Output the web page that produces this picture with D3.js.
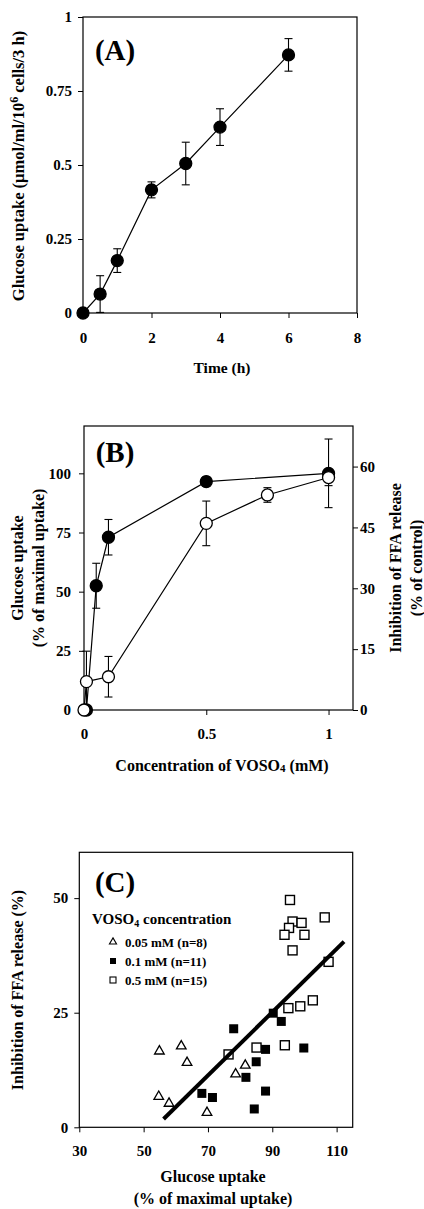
<!DOCTYPE html>
<html>
<head>
<meta charset="utf-8">
<script src="https://cdn.jsdelivr.net/npm/d3@7"></script>
<style>
  body { margin: 0; background: #fff; }
  svg { display: block; }
  text { font-family: "Liberation Serif", "Times New Roman", serif; font-weight: bold; fill: #000; }
</style>
</head>
<body>
<div id="chart"></div>
<script>
// ---- panel A: glucose uptake over time
const timeH = [0, 0.5, 1, 2, 3, 4, 6];
const uptakeA = [0, 0.064, 0.177, 0.416, 0.505, 0.628, 0.872];
const uptakeAErr = [0, 0.062, 0.04, 0.027, 0.072, 0.062, 0.055];
const ticksAX = [0, 2, 4, 6, 8];
const ticksAY = [0, 0.25, 0.5, 0.75, 1];

// ---- panel B: dose response (filled = glucose uptake, open = FFA inhibition)
const concGlucose = [0.01, 0.05, 0.1, 0.5, 1];
const glucoseB = [0, 52.5, 73, 96.5, 100];
const glucoseBErr = [0, 9.5, 7.5, 2, 14.5];
const concFFA = [0, 0.01, 0.1, 0.5, 0.75, 1];
const ffaB = [0, 7, 8.2, 46, 53, 57.3];
const ffaBErr = [0, 7.5, 5, 5.5, 1.8, 2];
const ticksBX = [0, 0.5, 1];
const ticksBLeft = [0, 25, 50, 75, 100];
const ticksBRight = [0, 15, 30, 45, 60];

// ---- panel C: correlation
const tri005X = [54.9, 61.7, 63.5, 54.7, 57.9, 69.7, 78.6, 81.6];
const tri005Y = [16.6, 17.7, 14.1, 6.7, 5.2, 3.2, 11.6, 13.5];
const sq01X = [78.0, 68.1, 71.4, 81.8, 85.0, 87.9, 87.9, 84.4, 90.3, 92.8, 99.8];
const sq01Y = [21.5, 7.4, 6.5, 10.9, 14.3, 17.0, 7.9, 4.0, 24.9, 23.1, 17.3];
const sq05X = [95.5, 106.3, 96.3, 99.1, 95.2, 93.8, 100.0, 96.3, 107.5, 102.6, 98.7, 95.0, 93.9, 85.1, 76.4];
const sq05Y = [49.6, 45.8, 44.9, 44.6, 43.5, 42.0, 42.0, 38.6, 36.1, 27.7, 26.4, 26.0, 17.9, 17.4, 15.9];
const fitX = [56.2, 112.3];
const fitY = [1.8, 40.5];
const legendLabels = ["0.05 mM (n=8)", "0.1 mM (n=11)", "0.5 mM (n=15)"];
const ticksCX = [30, 50, 70, 90, 110];
const ticksCY = [0, 25, 50];

const svg = d3.select("#chart")
              .append("svg")
              .attr("width", 424)
              .attr("height", 1209);

const styleAxis = (g, size) => {
    g.selectAll(".domain").remove();
    g.selectAll(".tick line").attr("stroke", "#000").attr("stroke-width", 1);
    g.selectAll(".tick text")
     .style("font-family", "'Liberation Serif', serif")
     .style("font-weight", "bold")
     .style("font-size", size + "px")
     .attr("fill", "#000");
};

const frame = (x, y) => {
    svg.append("rect")
       .attr("x", x.range()[0])
       .attr("y", y.range()[1])
       .attr("width", x.range()[1] - x.range()[0])
       .attr("height", y.range()[0] - y.range()[1])
       .attr("fill", "none")
       .attr("stroke", "#000")
       .attr("stroke-width", 1.2);
};

const errorBars = (xs, ys, errs, x, y) => {
    const g = svg.append("g").attr("stroke", "#000").attr("stroke-width", 1.1);
    xs.forEach((xv, i) => {
        if (!errs[i]) return;
        const cx = x(xv);
        const top = y(ys[i] + errs[i]);
        const bot = y(Math.max(ys[i] - errs[i], y.domain()[0]));
        g.append("line").attr("x1", cx).attr("x2", cx).attr("y1", top).attr("y2", bot);
        g.append("line").attr("x1", cx - 4).attr("x2", cx + 4).attr("y1", top).attr("y2", top);
        if (ys[i] - errs[i] > y.domain()[0])
            g.append("line").attr("x1", cx - 4).attr("x2", cx + 4).attr("y1", bot).attr("y2", bot);
    });
};

const series = (xs, ys, x, y, filled) => {
    const pts = xs.map((d, i) => [x(d), y(ys[i])]);
    svg.append("path")
       .attr("d", d3.line()(pts))
       .attr("fill", "none")
       .attr("stroke", "#000")
       .attr("stroke-width", 1.2);
    svg.append("g")
       .selectAll("circle")
       .data(pts)
       .join("circle")
       .attr("cx", d => d[0])
       .attr("cy", d => d[1])
       .attr("r", 6)
       .attr("fill", filled ? "#000" : "#fff")
       .attr("stroke", "#000")
       .attr("stroke-width", 1.3);
};

const label = (txt, x, y, size, rot) => {
    const t = svg.append("text")
                 .attr("text-anchor", "middle")
                 .style("font-size", size + "px")
                 .attr("transform", `translate(${x},${y})` + (rot ? ` rotate(${rot})` : ""));
    if (txt) t.text(txt);
    return t;
};

// ================= Panel A
{
    const x = d3.scaleLinear().domain([0, 8]).range([83, 357]);
    const y = d3.scaleLinear().domain([0, 1]).range([313, 17]);

    svg.append("g").attr("transform", "translate(0,313)")
       .call(d3.axisBottom(x).tickValues(ticksAX).tickFormat(d => String(d)).tickSize(5).tickSizeOuter(0).tickPadding(14))
       .call(g => styleAxis(g, 15));
    svg.append("g").attr("transform", "translate(83,0)")
       .call(d3.axisLeft(y).tickValues(ticksAY).tickFormat(d => String(d)).tickSize(5).tickSizeOuter(0).tickPadding(6))
       .call(g => styleAxis(g, 15));
    frame(x, y);

    errorBars(timeH, uptakeA, uptakeAErr, x, y);
    series(timeH, uptakeA, x, y, true);

    label("(A)", 115, 60, 29);
    label("Time (h)", 222, 373, 15.5);
    const t = label(null, 24, 166, 16.5, -90);
    t.append("tspan").text("Glucose uptake (\u00b5mol/ml/10");
    t.append("tspan").attr("dy", -6).style("font-size", "12px").text("6");
    t.append("tspan").attr("dy", 6).text(" cells/3 h)");
}

// ================= Panel B
{
    const x = d3.scaleLinear().domain([0, 1.1]).range([84, 353]);
    const yL = d3.scaleLinear().domain([0, 120]).range([710, 426]);
    const yR = d3.scaleLinear().domain([0, 70]).range([710, 426]);

    svg.append("g").attr("transform", "translate(0,710)")
       .call(d3.axisBottom(x).tickValues(ticksBX).tickFormat(d => String(d)).tickSize(5).tickSizeOuter(0).tickPadding(13))
       .call(g => styleAxis(g, 15));
    svg.append("g").attr("transform", "translate(84,0)")
       .call(d3.axisLeft(yL).tickValues(ticksBLeft).tickSize(5).tickSizeOuter(0).tickPadding(8))
       .call(g => styleAxis(g, 15));
    svg.append("g").attr("transform", "translate(353,0)")
       .call(d3.axisRight(yR).tickValues(ticksBRight).tickSize(5).tickSizeOuter(0).tickPadding(2))
       .call(g => styleAxis(g, 15));
    frame(x, yL);

    errorBars(concGlucose, glucoseB, glucoseBErr, x, yL);
    errorBars(concFFA, ffaB, ffaBErr, x, yR);
    series(concGlucose, glucoseB, x, yL, true);
    series(concFFA, ffaB, x, yR, false);

    label("(B)", 115, 462, 29);
    const t = label(null, 222, 771, 16);
    t.append("tspan").text("Concentration of VOSO");
    t.append("tspan").attr("dy", 1).style("font-size", "11px").text("4");
    t.append("tspan").attr("dy", -1).text(" (mM)");
    label("Glucose uptake", 23, 568, 16, -90);
    label("(% of maximal uptake)", 44, 568, 16, -90);
    label("Inhibition of FFA release", 401, 568, 16, -90);
    label("(% of control)", 422, 568, 16, -90);
}

// ================= Panel C
{
    const x = d3.scaleLinear().domain([30, 115]).range([79.3, 352.7]);
    const y = d3.scaleLinear().domain([0, 60]).range([1127.3, 852.3]);

    svg.append("g").attr("transform", "translate(0,1127.3)")
       .call(d3.axisBottom(x).tickValues(ticksCX).tickSize(5).tickSizeOuter(0).tickPadding(13))
       .call(g => styleAxis(g, 15));
    svg.append("g").attr("transform", "translate(79.3,0)")
       .call(d3.axisLeft(y).tickValues(ticksCY).tickSize(5).tickSizeOuter(0).tickPadding(6))
       .call(g => styleAxis(g, 15));
    frame(x, y);

    const s = 9;
    svg.append("g")
       .selectAll("rect")
       .data(sq01X)
       .join("rect")
       .attr("x", (d, i) => x(d) - s / 2)
       .attr("y", (d, i) => y(sq01Y[i]) - s / 2)
       .attr("width", s).attr("height", s)
       .attr("fill", "#000");

    svg.append("g")
       .selectAll("rect")
       .data(sq05X)
       .join("rect")
       .attr("x", (d, i) => x(d) - s / 2)
       .attr("y", (d, i) => y(sq05Y[i]) - s / 2)
       .attr("width", s).attr("height", s)
       .attr("fill", "#fff")
       .attr("stroke", "#000")
       .attr("stroke-width", 1.4);

    const tri = d3.symbol().type(d3.symbolTriangle).size(40);
    svg.append("g")
       .selectAll("path")
       .data(tri005X)
       .join("path")
       .attr("d", tri)
       .attr("transform", (d, i) => `translate(${x(d)},${y(tri005Y[i])})`)
       .attr("fill", "#fff")
       .attr("stroke", "#000")
       .attr("stroke-width", 1.3);

    svg.append("path")
       .attr("d", d3.line()(fitX.map((d, i) => [x(d), y(fitY[i])])))
       .attr("stroke", "#000")
       .attr("stroke-width", 4);

    label("(C)", 115, 892, 29);

    // legend
    const lt = svg.append("text").attr("x", 92).attr("y", 924).style("font-size", "15px");
    lt.append("tspan").text("VOSO");
    lt.append("tspan").attr("dy", 3).style("font-size", "10px").text("4");
    lt.append("tspan").attr("dy", -3).text(" concentration");

    const legY = [942, 961, 980];
    svg.append("path").attr("d", d3.symbol().type(d3.symbolTriangle).size(22))
       .attr("transform", `translate(113,${legY[0]})`)
       .attr("fill", "#fff").attr("stroke", "#000").attr("stroke-width", 1.1);
    svg.append("rect").attr("x", 110).attr("y", legY[1] - 3).attr("width", 6).attr("height", 6).attr("fill", "#000");
    svg.append("rect").attr("x", 110).attr("y", legY[2] - 3).attr("width", 6).attr("height", 6)
       .attr("fill", "#fff").attr("stroke", "#000").attr("stroke-width", 1.1);
    legendLabels.forEach((d, i) => {
        svg.append("text").attr("x", 125).attr("y", legY[i] + 4.5).style("font-size", "13px").text(d);
    });

    label("Inhibition of FFA release (%)", 23, 990, 16, -90);
    label("Glucose uptake", 213, 1182, 16);
    label("(% of maximal uptake)", 213, 1204, 16);
}
</script>
</body>
</html>
